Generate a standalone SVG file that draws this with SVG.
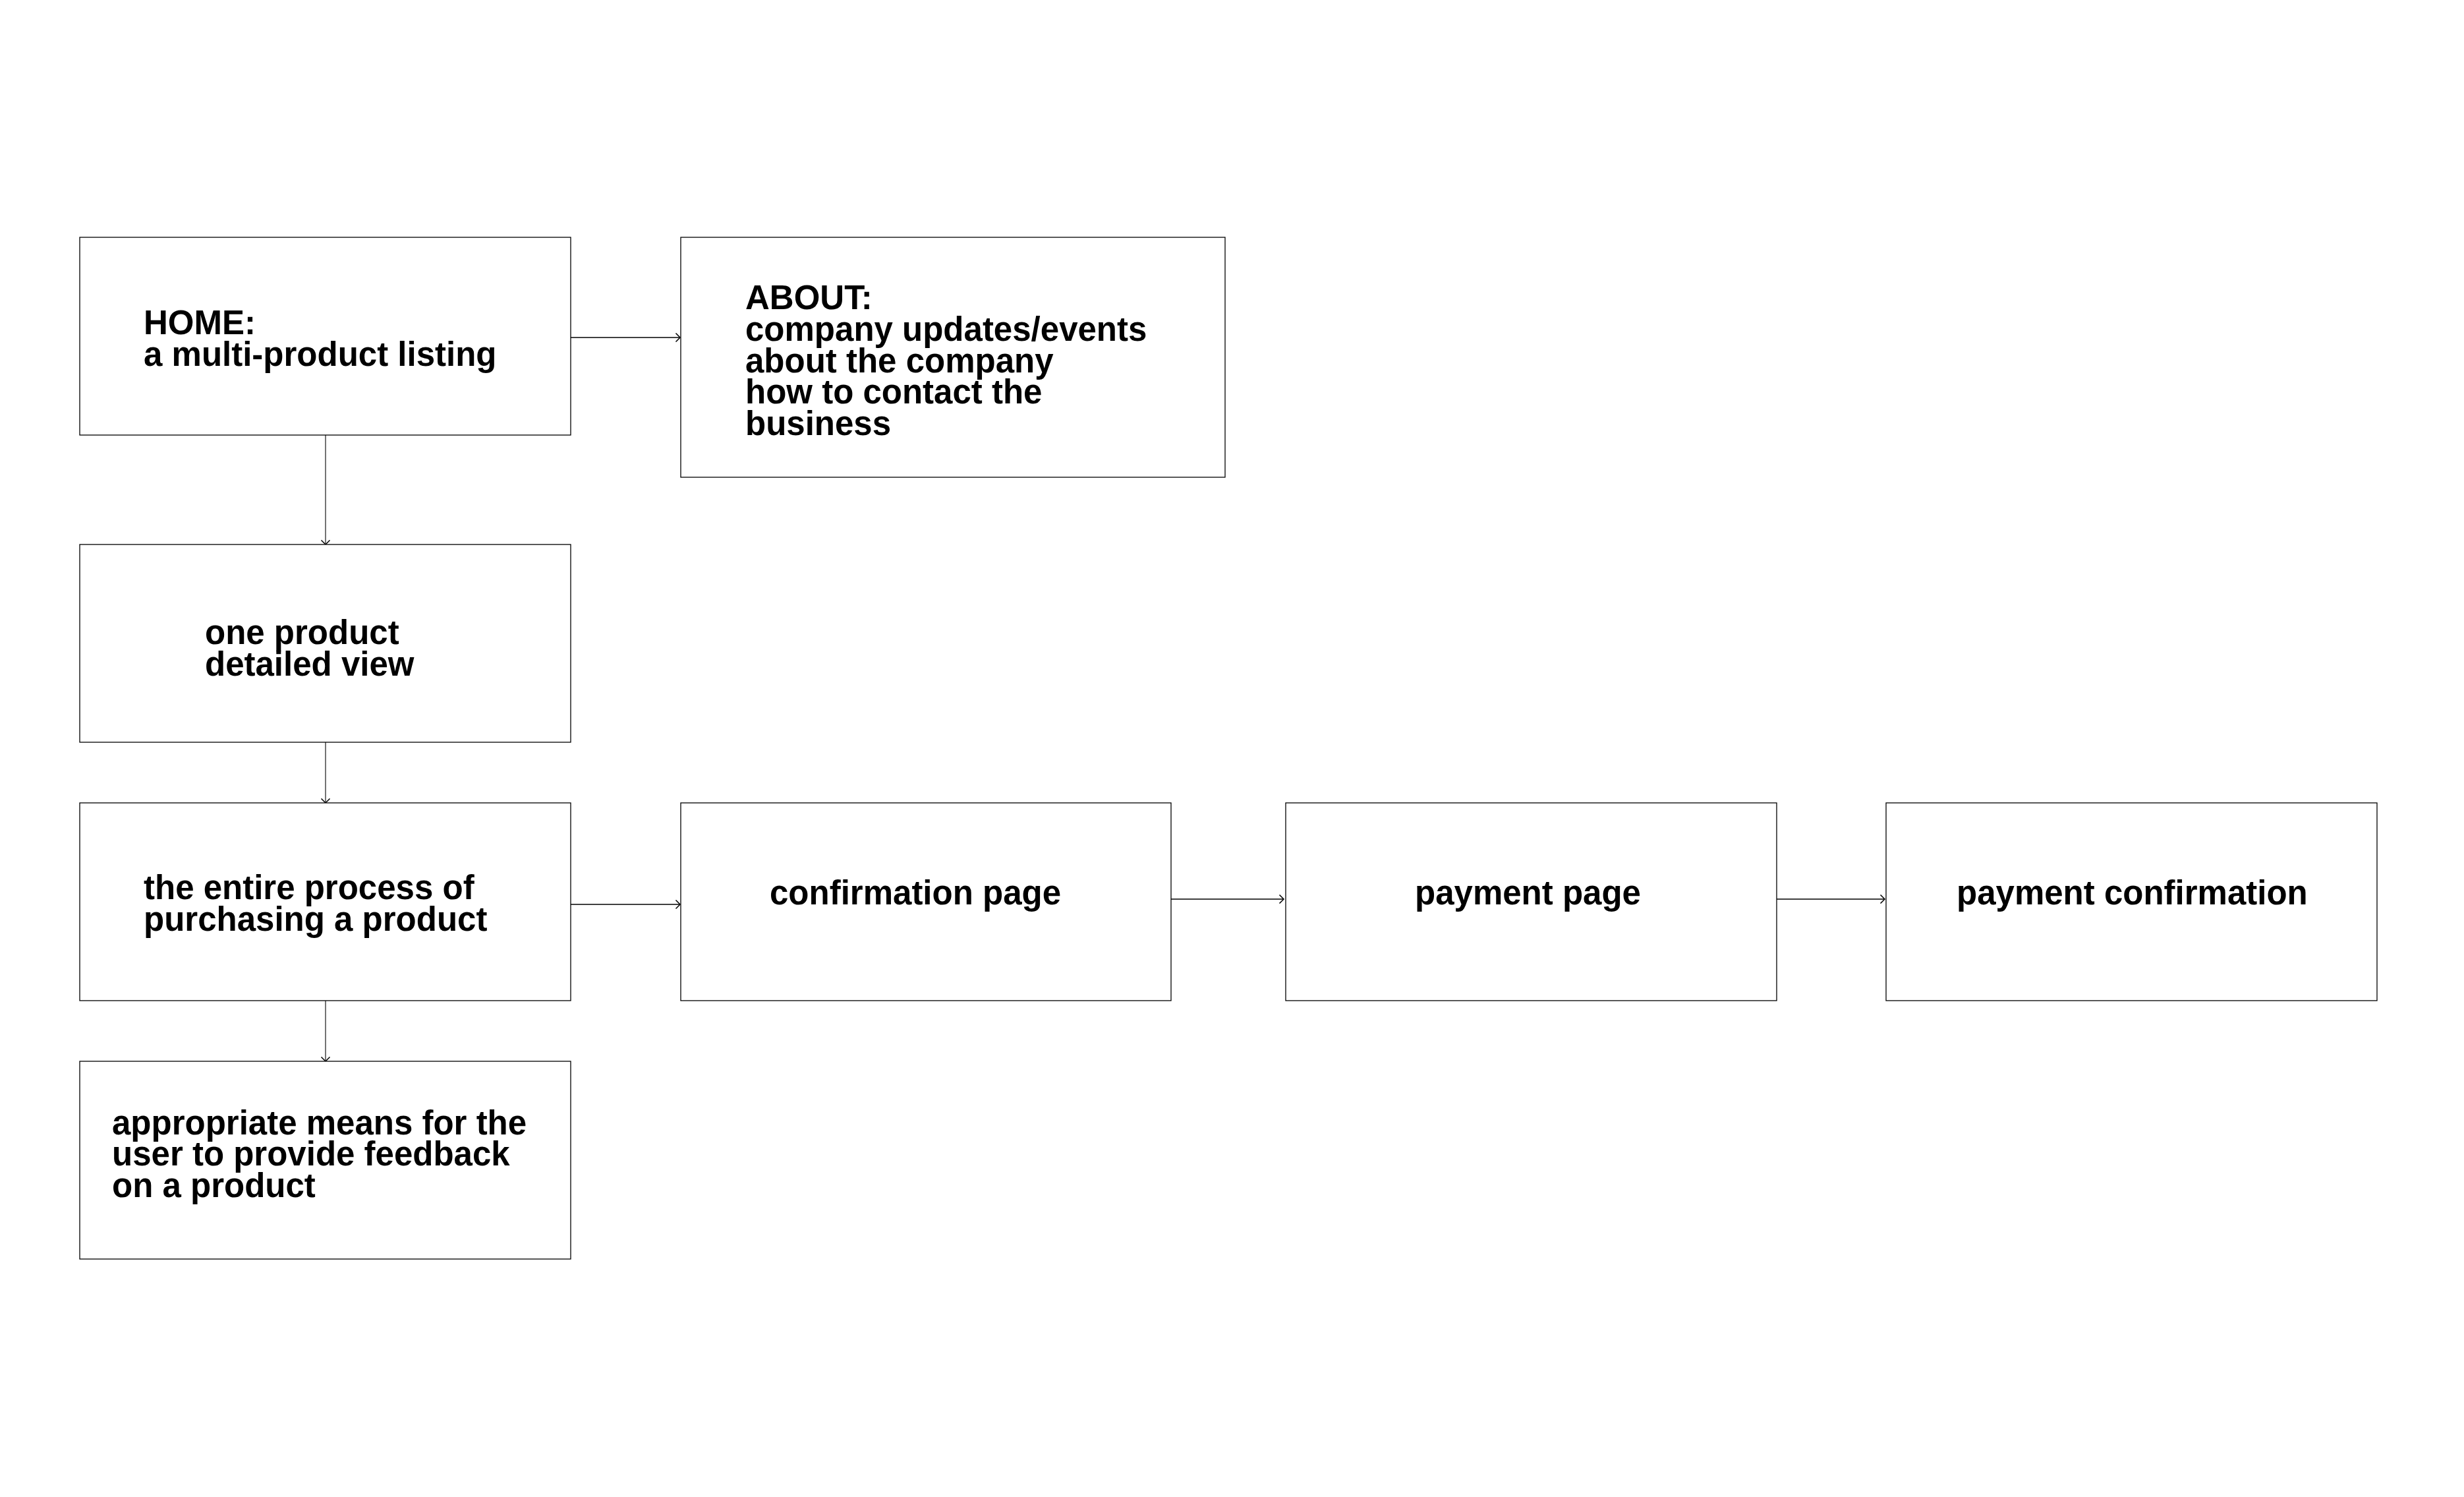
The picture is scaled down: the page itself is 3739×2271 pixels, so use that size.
<svg xmlns="http://www.w3.org/2000/svg" width="3739" height="2271" viewBox="0 0 3739 2271">
<style>
.box{fill:#fff;stroke:#000;stroke-width:1.3}
.t{font-family:"Liberation Sans",Arial,sans-serif;font-weight:bold;font-size:51px;fill:#000}
.c{fill:none;stroke:#000}
.h{stroke-width:1.7}
.v{stroke-width:1.1}
</style>
<defs>
<marker id="arr" markerUnits="userSpaceOnUse" markerWidth="20" markerHeight="20" viewBox="-10 -10 20 20" refX="0" refY="0" orient="auto">
<path d="M-6.5,-6.5 L0,0 L-6.5,6.5" fill="none" stroke="#000" stroke-width="1.5"/>
</marker>
</defs>
<rect width="3739" height="2271" fill="#fff"/>
<g id="connectors">
<line class="c h" x1="866" y1="512" x2="1032" y2="512" marker-end="url(#arr)"/>
<line class="c v" x1="494" y1="660" x2="494" y2="826" marker-end="url(#arr)"/>
<line class="c v" x1="494" y1="1126" x2="494" y2="1218" marker-end="url(#arr)"/>
<line class="c h" x1="866" y1="1372" x2="1032" y2="1372" marker-end="url(#arr)"/>
<line class="c v" x1="494" y1="1518" x2="494" y2="1610" marker-end="url(#arr)"/>
<line class="c h" x1="1777" y1="1364" x2="1948" y2="1364" marker-end="url(#arr)"/>
<line class="c h" x1="2696" y1="1364" x2="2860" y2="1364" marker-end="url(#arr)"/>
</g>
<g id="home">
<rect class="box" x="121" y="360" width="745" height="300"/>
<text class="t" x="218" y="507">HOME:</text>
<text class="t" x="218" y="554.5">a multi-product listing</text>
</g>
<g id="about">
<rect class="box" x="1033" y="360" width="826" height="364"/>
<text class="t" x="1131" y="469.3">ABOUT:</text>
<text class="t" x="1131" y="517">company updates/events</text>
<text class="t" x="1131" y="564.7">about the company</text>
<text class="t" x="1131" y="612.3">how to contact the</text>
<text class="t" x="1131" y="660">business</text>
</g>
<g id="product">
<rect class="box" x="121" y="826" width="745" height="300"/>
<text class="t" x="311" y="977">one product</text>
<text class="t" x="311" y="1024.6">detailed view</text>
</g>
<g id="purchase">
<rect class="box" x="121" y="1218" width="745" height="300"/>
<text class="t" x="218" y="1364">the entire process of</text>
<text class="t" x="218" y="1411.7">purchasing a product</text>
</g>
<g id="confirmation">
<rect class="box" x="1033" y="1218" width="744" height="300"/>
<text class="t" x="1168" y="1372">confirmation page</text>
</g>
<g id="payment">
<rect class="box" x="1951" y="1218" width="745" height="300"/>
<text class="t" x="2147" y="1372">payment page</text>
</g>
<g id="payment-confirmation">
<rect class="box" x="2862" y="1218" width="745" height="300"/>
<text class="t" x="2969" y="1372">payment confirmation</text>
</g>
<g id="feedback">
<rect class="box" x="121" y="1610" width="745" height="300"/>
<text class="t" x="170" y="1720.7">appropriate means for the</text>
<text class="t" x="170" y="1768.4">user to provide feedback</text>
<text class="t" x="170" y="1816">on a product</text>
</g>
</svg>
